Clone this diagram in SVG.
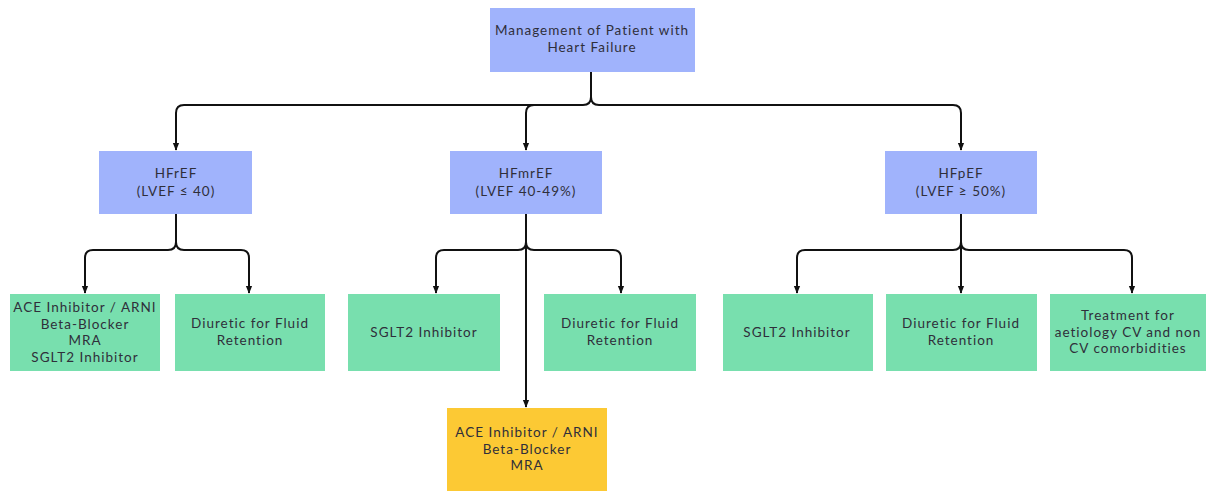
<svg xmlns="http://www.w3.org/2000/svg" width="1208" height="491" viewBox="0 0 1208 491">
<defs>
<style>
.t{font-family:"Lato","Noto Sans",sans-serif;font-size:13.5px;letter-spacing:1px;fill:#2f2f3a;text-anchor:middle}
.b{fill:#a0b3fc}
.g{fill:#78dfae}
.y{fill:#fcc934}
.c{fill:none;stroke:#111;stroke-width:2}
</style>
<marker id="ah" viewBox="0 0 10 10" refX="9" refY="5" markerWidth="8" markerHeight="8" markerUnits="userSpaceOnUse" orient="auto">
<path d="M0,1 L10,5 L0,9 Z" fill="#111"/>
</marker>
</defs>
<rect width="1208" height="491" fill="#fff"/>
<g id="connectors">
<path class="c" d="M591,72 V97 Q591,105 583,105 H184 Q176,105 176,113 V150" marker-end="url(#ah)"/>
<path class="c" d="M591,97 Q591,105 599,105 H953 Q961,105 961,113 V150" marker-end="url(#ah)"/>
<path class="c" d="M583,105 H534 Q526,105 526,113 V150" marker-end="url(#ah)"/>
<path class="c" d="M176,214 V242 Q176,250 168,250 H93 Q85,250 85,258 V293" marker-end="url(#ah)"/>
<path class="c" d="M176,242 Q176,250 184,250 H241 Q249,250 249,258 V293" marker-end="url(#ah)"/>
<path class="c" d="M526,214 V242 Q526,250 518,250 H444 Q436,250 436,258 V293" marker-end="url(#ah)"/>
<path class="c" d="M526,242 Q526,250 534,250 H613 Q621,250 621,258 V293" marker-end="url(#ah)"/>
<path class="c" d="M526,214 V407" marker-end="url(#ah)"/>
<path class="c" d="M961,214 V242 Q961,250 953,250 H805 Q797,250 797,258 V293" marker-end="url(#ah)"/>
<path class="c" d="M961,242 V293" marker-end="url(#ah)"/>
<path class="c" d="M961,242 Q961,250 969,250 H1124 Q1132,250 1132,258 V293" marker-end="url(#ah)"/>
</g>
<g id="root"><rect class="b" x="490" y="8" width="205" height="64"/><text class="t" x="592" y="35">Management of Patient with</text><text class="t" x="592" y="52">Heart Failure</text></g>
<g id="hfref"><rect class="b" x="99" y="151" width="153" height="63"/><text class="t" x="176" y="178">HFrEF</text><text class="t" x="176" y="196">(LVEF ≤ 40)</text></g>
<g id="hfmref"><rect class="b" x="450" y="151" width="152" height="63"/><text class="t" x="526" y="178">HFmrEF</text><text class="t" x="526" y="196">(LVEF 40-49%)</text></g>
<g id="hfpef"><rect class="b" x="885" y="151" width="152" height="63"/><text class="t" x="961" y="178">HFpEF</text><text class="t" x="961" y="196">(LVEF ≥ 50%)</text></g>
<g id="ref-drugs"><rect class="g" x="10" y="294" width="150" height="77"/><text class="t" x="85" y="312">ACE Inhibitor / ARNI</text><text class="t" x="85" y="328.5">Beta-Blocker</text><text class="t" x="85" y="345">MRA</text><text class="t" x="85" y="361.5">SGLT2 Inhibitor</text></g>
<g id="ref-diuretic"><rect class="g" x="175" y="294" width="150" height="77"/><text class="t" x="250" y="328">Diuretic for Fluid</text><text class="t" x="250" y="345">Retention</text></g>
<g id="mref-sglt2"><rect class="g" x="348" y="294" width="152" height="77"/><text class="t" x="424" y="337">SGLT2 Inhibitor</text></g>
<g id="mref-diuretic"><rect class="g" x="544" y="294" width="152" height="77"/><text class="t" x="620" y="328">Diuretic for Fluid</text><text class="t" x="620" y="345">Retention</text></g>
<g id="mref-drugs"><rect class="y" x="447" y="408" width="160" height="83"/><text class="t" x="527" y="437">ACE Inhibitor / ARNI</text><text class="t" x="527" y="453.5">Beta-Blocker</text><text class="t" x="527" y="470">MRA</text></g>
<g id="pef-sglt2"><rect class="g" x="723" y="294" width="150" height="77"/><text class="t" x="797" y="337">SGLT2 Inhibitor</text></g>
<g id="pef-diuretic"><rect class="g" x="886" y="294" width="151" height="77"/><text class="t" x="961" y="328">Diuretic for Fluid</text><text class="t" x="961" y="345">Retention</text></g>
<g id="pef-treatment"><rect class="g" x="1050" y="294" width="156" height="77"/><text class="t" x="1128" y="320">Treatment for</text><text class="t" x="1128" y="336.5">aetiology CV and non</text><text class="t" x="1128" y="353">CV comorbidities</text></g>
</svg>
